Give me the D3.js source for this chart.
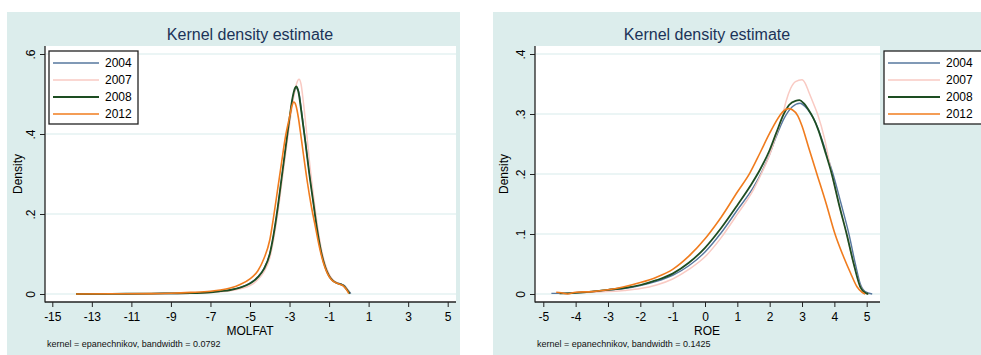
<!DOCTYPE html>
<html>
<head>
<meta charset="utf-8">
<script src="https://cdn.jsdelivr.net/npm/d3@7"></script>
<style>
body { margin: 0; background: #fff; }
svg { display: block; }
text { font-family: "Liberation Sans", Arial, sans-serif; }
</style>
</head>
<body>
<svg width="981" height="355"></svg>
<script>
// series names and colours
var years = ["2004", "2007", "2008", "2012"];
var lineColors = ["#56779e", "#f9cac3", "#1d4d22", "#f07c1e"];
var lineWidths = [1.4, 1.5, 1.8, 1.6];

// MOLFAT densities, [x, density]
var molfat2004 = [[-13.8,0],[-12,0.0005],[-10,0.001],[-8,0.002],[-7,0.004],[-6,0.01],[-5.5,0.016],[-5,0.027],[-4.6,0.043],[-4.3,0.063],[-4.0,0.10],[-3.8,0.148],[-3.6,0.212],[-3.4,0.287],[-3.2,0.362],[-3.0,0.436],[-2.85,0.485],[-2.72,0.51],[-2.62,0.514],[-2.52,0.503],[-2.4,0.46],[-2.2,0.383],[-2.0,0.305],[-1.8,0.232],[-1.6,0.163],[-1.4,0.107],[-1.2,0.07],[-1.0,0.047],[-0.8,0.034],[-0.6,0.028],[-0.4,0.025],[-0.2,0.02],[-0.05,0.01],[0.1,0.001]];
var molfat2007 = [[-13,0],[-11,0.0005],[-9,0.001],[-8,0.002],[-7,0.004],[-6,0.008],[-5.5,0.013],[-5,0.021],[-4.6,0.036],[-4.3,0.055],[-4.0,0.09],[-3.8,0.138],[-3.6,0.2],[-3.4,0.275],[-3.2,0.35],[-3.0,0.425],[-2.8,0.49],[-2.65,0.525],[-2.52,0.537],[-2.42,0.525],[-2.3,0.48],[-2.15,0.41],[-2.0,0.335],[-1.8,0.25],[-1.6,0.175],[-1.4,0.115],[-1.2,0.075],[-1.0,0.05],[-0.8,0.035],[-0.6,0.028],[-0.4,0.024],[-0.2,0.019],[-0.05,0.01],[0.05,0.001]];
var molfat2008 = [[-13.8,0],[-12,0.0005],[-10,0.001],[-9,0.0015],[-8,0.002],[-7,0.004],[-6.5,0.007],[-6,0.01],[-5.5,0.016],[-5,0.026],[-4.6,0.042],[-4.3,0.062],[-4.0,0.10],[-3.8,0.15],[-3.6,0.215],[-3.4,0.29],[-3.2,0.365],[-3.0,0.44],[-2.85,0.49],[-2.72,0.515],[-2.65,0.519],[-2.55,0.505],[-2.4,0.455],[-2.2,0.38],[-2.0,0.30],[-1.8,0.23],[-1.6,0.16],[-1.4,0.105],[-1.2,0.068],[-1.0,0.045],[-0.8,0.033],[-0.6,0.027],[-0.4,0.024],[-0.25,0.02],[-0.1,0.011],[0.05,0.001]];
var molfat2012 = [[-13.8,0],[-12,0.0005],[-10,0.001],[-9,0.002],[-8,0.004],[-7,0.007],[-6.5,0.01],[-6,0.015],[-5.5,0.024],[-5,0.038],[-4.6,0.058],[-4.3,0.088],[-4.0,0.135],[-3.8,0.195],[-3.6,0.262],[-3.4,0.33],[-3.2,0.395],[-3.0,0.442],[-2.88,0.47],[-2.78,0.48],[-2.68,0.472],[-2.55,0.44],[-2.45,0.405],[-2.3,0.35],[-2.1,0.28],[-1.9,0.22],[-1.7,0.17],[-1.5,0.12],[-1.3,0.08],[-1.1,0.053],[-0.9,0.037],[-0.7,0.029],[-0.5,0.025],[-0.3,0.021],[-0.15,0.013],[0.0,0.001]];

// ROE densities, [x, density]
var roe2004 = [[-4.75,0.001],[-4.3,0.001],[-4.0,0.002],[-3.5,0.004],[-3.0,0.006],[-2.5,0.009],[-2.0,0.014],[-1.5,0.021],[-1.0,0.031],[-0.5,0.047],[0.0,0.07],[0.5,0.102],[1.0,0.14],[1.5,0.178],[1.75,0.203],[2.0,0.233],[2.2,0.262],[2.45,0.293],[2.7,0.312],[2.94,0.318],[3.1,0.312],[3.25,0.302],[3.4,0.288],[3.6,0.26],[3.8,0.227],[3.97,0.198],[4.2,0.152],[4.45,0.1],[4.65,0.05],[4.8,0.017],[4.95,0.004],[5.17,0]];
var roe2007 = [[-4.5,0.001],[-4.0,0.002],[-3.5,0.003],[-3.0,0.004],[-2.5,0.006],[-2.0,0.009],[-1.5,0.015],[-1.0,0.025],[-0.5,0.041],[0.0,0.062],[0.5,0.094],[1.0,0.133],[1.5,0.174],[1.8,0.207],[2.0,0.232],[2.2,0.265],[2.4,0.298],[2.5,0.32],[2.65,0.343],[2.8,0.354],[3.0,0.357],[3.1,0.351],[3.2,0.338],[3.35,0.318],[3.48,0.3],[3.7,0.258],[3.92,0.2],[4.15,0.148],[4.38,0.1],[4.6,0.05],[4.8,0.013],[4.95,0.002],[5.05,0]];
var roe2008 = [[-4.5,0.001],[-4.0,0.002],[-3.5,0.004],[-3.0,0.007],[-2.5,0.01],[-2.0,0.015],[-1.5,0.023],[-1.0,0.034],[-0.5,0.052],[0.0,0.077],[0.5,0.11],[1.0,0.148],[1.4,0.18],[1.7,0.207],[2.0,0.24],[2.2,0.268],[2.42,0.298],[2.6,0.315],[2.8,0.322],[2.92,0.323],[3.05,0.318],[3.2,0.307],[3.35,0.293],[3.5,0.274],[3.7,0.24],[3.92,0.2],[4.15,0.148],[4.38,0.1],[4.6,0.05],[4.8,0.012],[4.95,0.002],[5.05,0]];
var roe2012 = [[-4.6,0.003],[-4.45,0.002],[-4.25,0],[-4.0,0.003],[-3.5,0.004],[-3.0,0.007],[-2.5,0.012],[-2.0,0.019],[-1.5,0.028],[-1.0,0.041],[-0.5,0.063],[0.0,0.092],[0.3,0.113],[0.5,0.128],[1.0,0.17],[1.39,0.202],[1.7,0.235],[2.0,0.268],[2.32,0.298],[2.45,0.306],[2.58,0.309],[2.7,0.307],[2.87,0.297],[3.0,0.28],[3.2,0.245],[3.46,0.2],[3.75,0.15],[4.02,0.1],[4.3,0.06],[4.5,0.035],[4.7,0.012],[4.85,0.003],[4.95,0]];

// ticks
var molfatXTicks = [-15, -13, -11, -9, -7, -5, -3, -1, 1, 3, 5];
var molfatYTicks = [0, 0.2, 0.4, 0.6];
var roeXTicks = [-5, -4, -3, -2, -1, 0, 1, 2, 3, 4, 5];
var roeYTicks = [0, 0.1, 0.2, 0.3, 0.4];

var svg = d3.select("svg");

function fmtY(d) {
  if (d === 0) return "0";
  return String(d).replace(/^0/, "");
}

function panel(cfg) {
  var g = svg.append("g");
  // graph region
  g.append("rect")
    .attr("x", cfg.bg[0]).attr("y", cfg.bg[1])
    .attr("width", cfg.bg[2]).attr("height", cfg.bg[3])
    .attr("fill", "#dcedec");
  // plot region
  g.append("rect")
    .attr("x", cfg.left).attr("y", cfg.top)
    .attr("width", cfg.right - cfg.left).attr("height", cfg.bottom - cfg.top)
    .attr("fill", "#fff");

  var x = d3.scaleLinear().domain(cfg.xDomain).range(cfg.xRange);
  var y = d3.scaleLinear().domain(cfg.yDomain).range(cfg.yRange);

  // grid lines
  g.selectAll(".grid").data(cfg.yTicks).enter().append("line")
    .attr("x1", cfg.left + 1).attr("x2", cfg.right)
    .attr("y1", function(d) { return y(d); })
    .attr("y2", function(d) { return y(d); })
    .attr("stroke", "#d7ebeb").attr("stroke-width", 1.2);

  // y axis
  var ya = g.append("g").attr("transform", "translate(" + cfg.left + ",0)")
    .call(d3.axisLeft(y).tickValues(cfg.yTicks).tickFormat(fmtY).tickSize(5).tickSizeOuter(0));
  ya.select(".domain").remove();
  ya.selectAll("line").attr("stroke", "#222");
  ya.selectAll("text")
    .attr("x", 0).attr("y", -10.5).attr("dy", 0)
    .attr("transform", "rotate(-90)")
    .attr("text-anchor", "middle")
    .attr("font-size", 12).attr("fill", "#000")
    .style("font-family", "'Liberation Sans', Arial, sans-serif");

  // x axis
  var xa = g.append("g").attr("transform", "translate(0," + cfg.bottom + ")")
    .call(d3.axisBottom(x).tickValues(cfg.xTicks).tickFormat(function(d) { return String(d); })
      .tickSize(5).tickPadding(5).tickSizeOuter(0));
  xa.select(".domain").remove();
  xa.selectAll("line").attr("stroke", "#222");
  xa.selectAll("text").attr("font-size", 12).attr("fill", "#000")
    .style("font-family", "'Liberation Sans', Arial, sans-serif");

  // axis lines
  g.append("line").attr("x1", cfg.left).attr("x2", cfg.left)
    .attr("y1", cfg.top).attr("y2", cfg.bottom + 0.5)
    .attr("stroke", "#222").attr("stroke-width", 1.3);
  g.append("line").attr("x1", cfg.left).attr("x2", cfg.right)
    .attr("y1", cfg.bottom).attr("y2", cfg.bottom)
    .attr("stroke", "#222").attr("stroke-width", 1.3);

  // curves
  var line = d3.line()
    .x(function(d) { return x(d[0]); })
    .y(function(d) { return y(d[1]); })
    .curve(d3.curveMonotoneX);
  cfg.series.forEach(function(s, i) {
    g.append("path")
      .attr("d", line(s))
      .attr("fill", "none")
      .attr("stroke", lineColors[i])
      .attr("stroke-width", lineWidths[i])
      .attr("stroke-linejoin", "round");
  });

  // titles
  g.append("text").attr("x", cfg.titleX).attr("y", 40)
    .attr("text-anchor", "middle").attr("font-size", 16).attr("fill", "#1b3358")
    .text("Kernel density estimate");
  g.append("text").attr("x", cfg.titleX).attr("y", 335)
    .attr("text-anchor", "middle").attr("font-size", 12).attr("fill", "#000")
    .text(cfg.xLabel);
  g.append("text")
    .attr("transform", "translate(" + cfg.densX + "," + ((cfg.top + cfg.bottom) / 2) + ") rotate(-90)")
    .attr("text-anchor", "middle").attr("font-size", 12).attr("fill", "#000")
    .text("Density");
  g.append("text").attr("x", cfg.noteX).attr("y", 347)
    .attr("font-size", 9).attr("fill", "#111")
    .text(cfg.note);

  // legend
  var lg = g.append("g").attr("transform", "translate(" + cfg.legend[0] + "," + cfg.legend[1] + ")");
  lg.append("rect").attr("x", 0).attr("y", 0)
    .attr("width", cfg.legend[2]).attr("height", 73)
    .attr("fill", "#fff").attr("stroke", "#222").attr("stroke-width", 1.3);
  years.forEach(function(yr, i) {
    var yy = 12 + i * 17;
    lg.append("line").attr("x1", 4).attr("x2", cfg.legend[3])
      .attr("y1", yy).attr("y2", yy)
      .attr("stroke", lineColors[i]).attr("stroke-width", lineWidths[i]);
    lg.append("text").attr("x", cfg.legend[3] + 6).attr("y", yy + 4)
      .attr("font-size", 12).attr("fill", "#000").text(yr);
  });
}

panel({
  bg: [7, 12, 453, 343],
  left: 45, right: 456, top: 46, bottom: 302,
  xDomain: [-15, 5], xRange: [52.3, 447.7],
  yDomain: [0, 0.6], yRange: [294, 54],
  xTicks: molfatXTicks, yTicks: molfatYTicks,
  series: [molfat2004, molfat2007, molfat2008, molfat2012],
  titleX: 250, densX: 21.5, noteX: 47,
  xLabel: "MOLFAT",
  note: "kernel = epanechnikov, bandwidth = 0.0792",
  legend: [49, 51, 89, 50]
});

panel({
  bg: [493, 12, 500, 343],
  left: 535, right: 880, top: 46, bottom: 302,
  xDomain: [-5, 5], xRange: [543.3, 866.7],
  yDomain: [0, 0.4], yRange: [294, 54],
  xTicks: roeXTicks, yTicks: roeYTicks,
  series: [roe2004, roe2007, roe2008, roe2012],
  titleX: 707, densX: 508, noteX: 537,
  xLabel: "ROE",
  note: "kernel = epanechnikov, bandwidth = 0.1425",
  legend: [884, 51, 110, 56]
});
</script>
</body>
</html>
